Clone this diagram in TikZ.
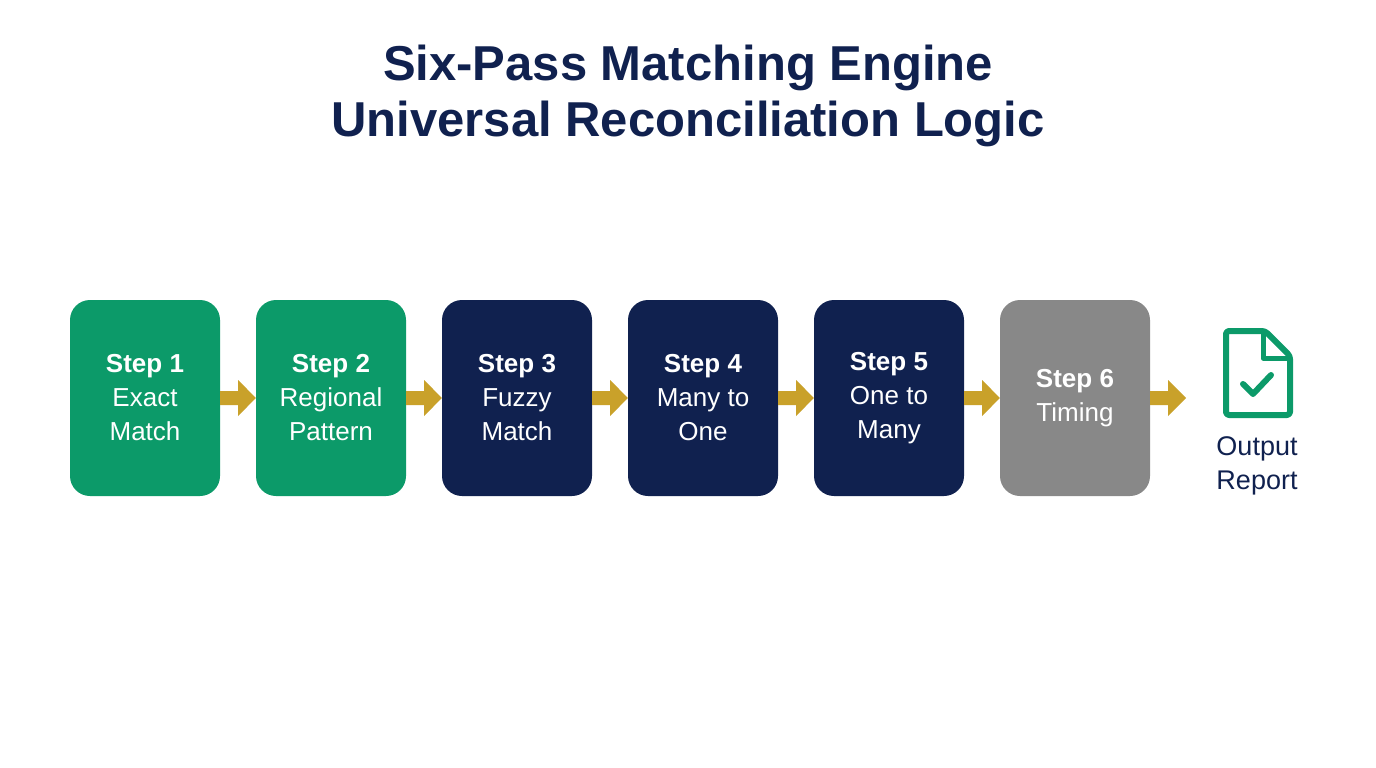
\documentclass[tikz,border=0pt]{standalone}
\usepackage{fontspec}
\setmainfont{Liberation Sans}
\usetikzlibrary{calc}
\definecolor{navy}{HTML}{10214F}
\definecolor{grn}{HTML}{0C9A69}
\definecolor{gry}{HTML}{888888}
\definecolor{gold}{HTML}{C9A12A}
\begin{document}
\begin{tikzpicture}[x=1pt,y=-1pt,
  stepbox/.style={rounded corners=20pt,minimum width=150pt,minimum height=196pt,inner sep=0pt,align=center,text=white,font=\fontsize{26}{34}\selectfont},
  flow/.style={fill=gold}]
\useasboundingbox (0,0) rectangle (1376,768);
\node[font=\bfseries\fontsize{49}{56}\selectfont,text=navy,align=center] (title) at (688,96) {Six-Pass Matching Engine\\Universal Reconciliation Logic};
\foreach \i/\c/\t in {1/grn/{\textbf{Step 1}\\Exact\\Match},2/grn/{\textbf{Step 2}\\Regional\\Pattern},3/navy/{\textbf{Step 3}\\Fuzzy\\Match},4/navy/{\textbf{Step 4}\\Many to\\One},5/navy/{\textbf{Step 5}\\One to\\Many},6/gry/{\textbf{Step 6}\\Timing}}{
  \node[stepbox,fill=\c] (s\i) at ({145+186*(\i-1)},398) {\t};
}
\coordinate (out) at (1186,398);
\foreach \a/\b in {s1/s2,s2/s3,s3/s4,s4/s5,s5/s6}{
  \fill[flow] ($(\a.east)+(0,-7)$) -- ++(18,0) -- ++(0,-11) -- (\b.west) -- ($(\a.east)+(18,18)$) -- ++(0,-11) -- ++(-18,0) -- cycle;
}
\fill[flow] ($(s6.east)+(0,-7)$) -- ++(18,0) -- ++(0,-11) -- (out) -- ($(s6.east)+(18,18)$) -- ++(0,-11) -- ++(-18,0) -- cycle;
% icon
\draw[grn,line width=6pt,line join=round,rounded corners=3pt] (1226,331) -- (1265,331) -- (1290,356) -- (1290,415) -- (1226,415) -- cycle;
\draw[grn,line width=5pt,line join=round] (1263,333) -- (1263,358) -- (1288,358);
\draw[grn,line width=6pt,line cap=round,line join=round] (1243,384) -- (1253,394) -- (1271,375);
\node[font=\fontsize{27}{34}\selectfont,text=navy,align=center] (rep) at (1257,466) {Output\\Report};
\end{tikzpicture}
\end{document}
